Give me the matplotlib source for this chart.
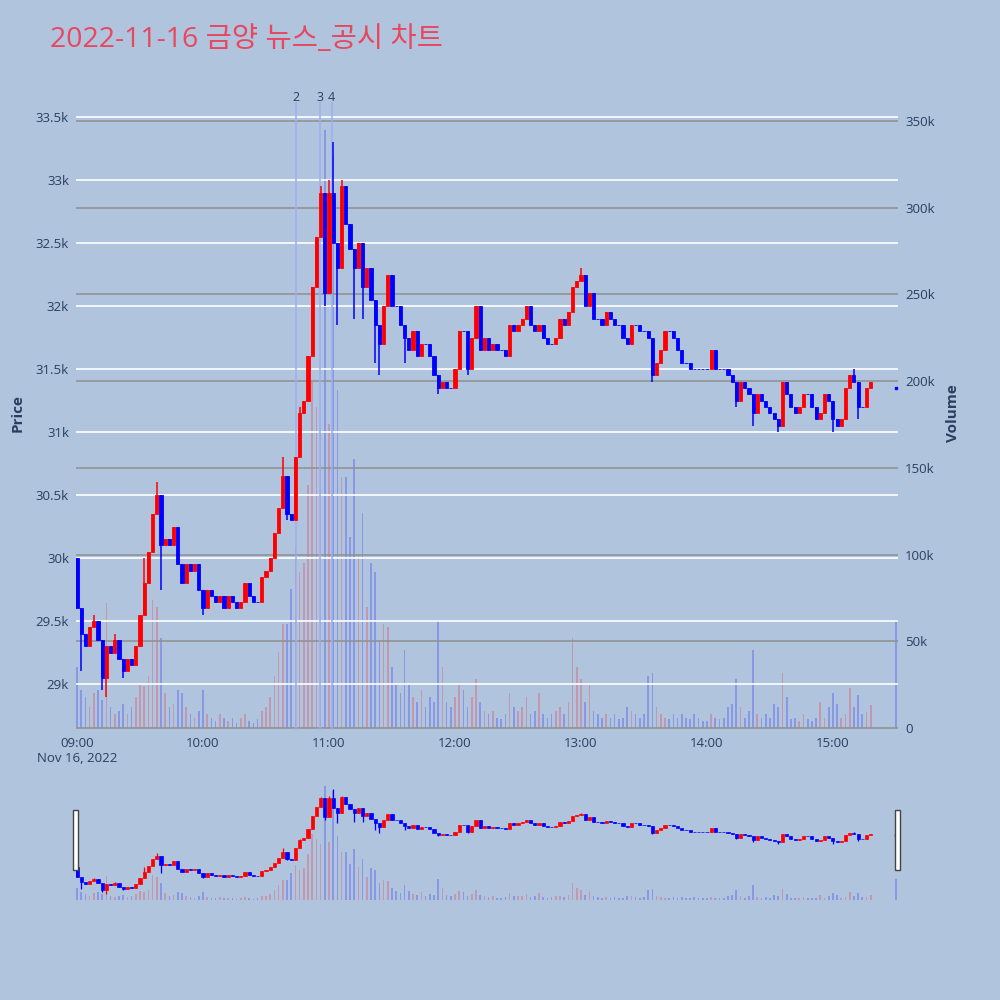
import numpy as np
import matplotlib.pyplot as plt
from matplotlib.patches import Rectangle
from matplotlib.transforms import blended_transform_factory
from matplotlib.ticker import FuncFormatter

# 2분 단위 캔들 (09:00 ~ 15:18), 마지막 단일 체결 15:30
first_open = 30000
closes = [
    29600, 29400, 29300, 29450, 29500, 29350, 29050, 29300, 29250, 29350,
    29200, 29100, 29200, 29150, 29300, 29550, 29800, 30050, 30350, 30500,
    30100, 30150, 30100, 30250, 29950, 29800, 29950, 29900, 29950, 29750,
    29600, 29750, 29700, 29650, 29700, 29600, 29700, 29650, 29600, 29650,
    29800, 29700, 29650, 29650, 29850, 29900, 30000, 30200, 30400, 30650,
    30350, 30300, 30800, 31150, 31250, 31600, 32150, 32550, 32900, 32100,
    32900, 32500, 32300, 32950, 32650, 32450, 32300, 32500, 32150, 32300,
    32050, 31850, 31700, 32000, 32250, 32000, 32000, 31850, 31750, 31650,
    31800, 31600, 31700, 31700, 31600, 31450, 31350, 31400, 31350, 31350,
    31500, 31800, 31800, 31500, 31750, 32000, 31650, 31750, 31650, 31700,
    31650, 31650, 31600, 31850, 31800, 31850, 31900, 32000, 31850, 31800,
    31850, 31750, 31700, 31700, 31750, 31900, 31850, 31950, 32150, 32200,
    32250, 32000, 32100, 31900, 31900, 31850, 31950, 31900, 31850, 31850,
    31750, 31700, 31850, 31850, 31800, 31800, 31750, 31450, 31550, 31650,
    31800, 31800, 31750, 31650, 31550, 31550, 31500, 31500, 31500, 31500,
    31500, 31650, 31500, 31500, 31500, 31450, 31400, 31250, 31400, 31350,
    31300, 31150, 31300, 31250, 31200, 31150, 31100, 31050, 31400, 31300,
    31200, 31150, 31200, 31300, 31300, 31200, 31100, 31150, 31300, 31250,
    31100, 31050, 31100, 31350, 31450, 31400, 31200, 31200, 31350, 31400,
]
wick_hi = {4: 29550, 9: 29400, 16: 30000, 19: 30600, 49: 30800, 53: 31200,
           58: 32950, 60: 33000, 61: 33300, 63: 33000, 120: 32300, 185: 31500}
wick_lo = {1: 29100, 6: 28950, 7: 28900, 11: 29050, 20: 29750, 30: 29550,
           50: 30300, 59: 32000, 62: 31850, 66: 31900, 68: 31900, 71: 31550,
           72: 31450, 78: 31550, 86: 31300, 93: 31450, 137: 31400, 157: 31200,
           161: 31050, 167: 31000, 180: 31000, 186: 31100}
volumes = [  # 천 주
    35, 22, 18, 12, 20, 22, 16, 72, 12, 8,
    10, 14, 8, 12, 18, 25, 24, 30, 74, 70,
    52, 20, 12, 14, 22, 20, 12, 8, 6, 10,
    22, 8, 6, 4, 8, 6, 4, 6, 3, 6,
    8, 4, 3, 5, 10, 12, 18, 30, 44, 60,
    60, 80, 105, 90, 95, 140, 200, 185, 170, 345,
    175, 330, 195, 145, 145, 110, 155, 100, 124, 70,
    95, 90, 50, 60, 58, 35, 25, 20, 45, 25,
    18, 15, 22, 12, 18, 15, 62, 35, 15, 12,
    18, 25, 22, 12, 18, 28, 15, 10, 8, 10,
    6, 5, 8, 20, 12, 10, 12, 18, 8, 10,
    20, 8, 6, 8, 10, 12, 8, 15, 52, 35,
    28, 15, 25, 10, 8, 6, 8, 6, 8, 5,
    6, 12, 10, 8, 6, 8, 30, 32, 12, 8,
    6, 5, 8, 6, 8, 6, 5, 8, 6, 4,
    4, 8, 6, 5, 6, 12, 14, 28, 12, 6,
    10, 45, 8, 6, 8, 6, 14, 12, 32, 18,
    5, 6, 4, 8, 5, 4, 6, 15, 6, 12,
    20, 14, 6, 8, 23, 12, 19, 8, 9, 13,
]
last_minute, last_price, last_volume = 390, 31350, 62

news_minutes = [104.3, 115.7, 121.2]
news_labels = ['2', '3', '4']

hour_ticks = [0, 60, 120, 180, 240, 300, 360]
hour_labels = ['09:00\nNov 16, 2022', '10:00', '11:00', '12:00', '13:00', '14:00', '15:00']

TXT = '#2a3f5f'
BG = '#E5ECF6'
UP, DOWN = '#FF0000', '#0000FF'

minutes = np.arange(0, 2 * len(closes), 2)
opens = [first_open] + closes[:-1]
highs = [wick_hi.get(i, max(o, c)) for i, (o, c) in enumerate(zip(opens, closes))]
lows = [wick_lo.get(i, min(o, c)) for i, (o, c) in enumerate(zip(opens, closes))]
colors = [UP if c > o else DOWN for o, c in zip(opens, closes)]

plt.rcParams['font.family'] = ['Open Sans', 'DejaVu Sans']


def draw(axp, axv, body_w, body_lw, wick_lw, vol_w):
    axv.bar(minutes, volumes, width=vol_w, color=colors, alpha=0.22, linewidth=0)
    axv.bar([last_minute], [last_volume], width=vol_w, color=DOWN, alpha=0.22, linewidth=0)
    axp.vlines(minutes, lows, highs, colors=colors, linewidth=wick_lw, zorder=3)
    bottoms = [min(o, c) for o, c in zip(opens, closes)]
    heights = [abs(c - o) for o, c in zip(opens, closes)]
    axp.bar(minutes, heights, bottom=bottoms, width=body_w, color=colors,
            edgecolor=colors, linewidth=body_lw, zorder=3)
    axp.plot([last_minute], [last_price], marker='s', ms=1.5, color=DOWN, zorder=3)
    for a in (axp, axv):
        a.set_xlim(-0.5, 391)
        for s in a.spines.values():
            s.set_visible(False)
    axp.set_ylim(28635, 33667)
    axv.set_ylim(-1.15, 364.4)


fig = plt.figure(figsize=(10, 10), dpi=100, facecolor='#B0C4DE')

# 메인 차트
ax = fig.add_axes([0.076, 0.270, 0.822, 0.634])
axv = ax.twinx()
ax.set_zorder(axv.get_zorder() + 1)
ax.patch.set_visible(False)
axv.patch.set_facecolor(BG)
draw(ax, axv, 1.5, 0.6, 1.1, 0.8)

ax.set_yticks(np.arange(29000, 33501, 500))
ax.yaxis.set_major_formatter(FuncFormatter(lambda v, p: f'{v / 1000:g}k'))
axv.set_yticks(np.arange(0, 351, 50))
axv.yaxis.set_major_formatter(FuncFormatter(lambda v, p: f'{v:g}k' if v else '0'))
ax.grid(axis='y', color='white', linewidth=1.2, zorder=0)
ax.set_axisbelow(True)
axv.grid(axis='y', color='#8f8f8f', linewidth=1.1)
ax.set_xticks(hour_ticks)
ax.set_xticklabels(hour_labels)
for a in (ax, axv):
    a.tick_params(length=0, labelsize=9.5, labelcolor=TXT, pad=5)
ax.set_ylabel('Price', fontsize=11, fontweight='bold', color=TXT, labelpad=8)
axv.set_ylabel('Volume', fontsize=11, fontweight='bold', color=TXT, labelpad=8)

# 뉴스/공시 시점
trans = blended_transform_factory(ax.transData, ax.transAxes)
for m, lab in zip(news_minutes, news_labels):
    ax.axvline(m, ymax=0.989, color='#9DADF0', linewidth=1.4, alpha=0.8, zorder=2)
    ax.text(m, 0.997, lab, transform=trans, ha='center', va='center',
            fontsize=9, color=TXT)

# 레인지 슬라이더
axs = fig.add_axes([0.076, 0.100, 0.822, 0.120])
axsv = axs.twinx()
axs.set_zorder(axsv.get_zorder() + 1)
axs.patch.set_visible(False)
axsv.patch.set_facecolor(BG)
draw(axs, axsv, 1.5, 0.5, 0.9, 0.8)
for a in (axs, axsv):
    a.set_xticks([])
    a.set_yticks([])
for xl in (0.073, 0.895):
    fig.patches.append(Rectangle((xl, 0.130), 0.005, 0.060, transform=fig.transFigure,
                                 facecolor='white', edgecolor='#444444', linewidth=1))

fig.text(0.05, 0.960, '2022-11-16 금양 뉴스_공시 차트', fontsize=20.5, color='#E8485F',
         va='center', ha='left', family=['Open Sans', 'Noto Sans CJK KR'])

fig.savefig('out.png', dpi=100, facecolor=fig.get_facecolor())
